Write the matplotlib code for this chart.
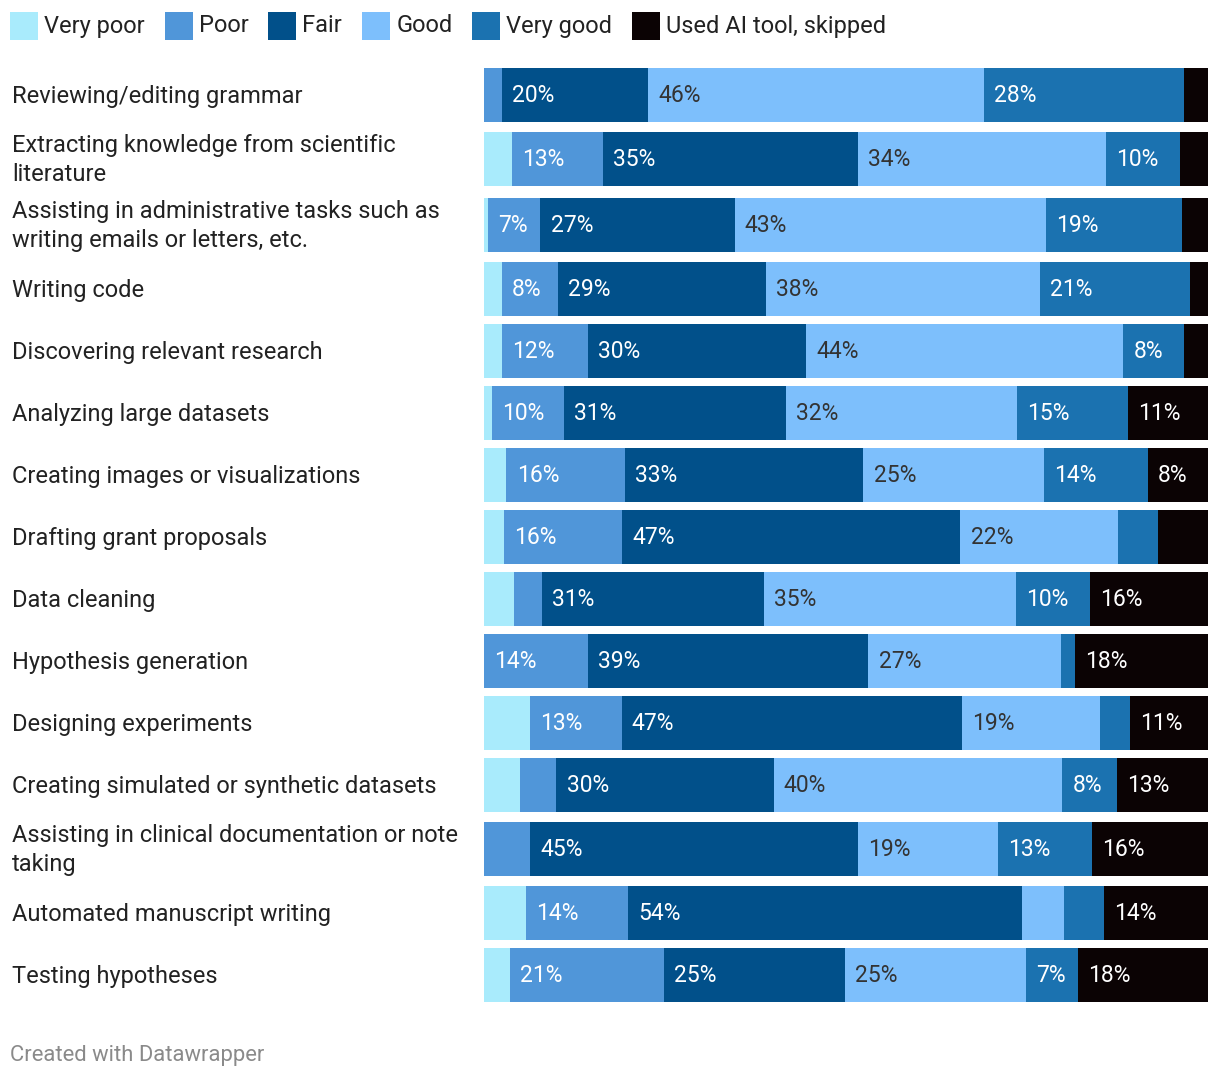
"""Stacked bar chart: how researchers rated AI tools per task."""

import matplotlib

matplotlib.use("Agg")
import matplotlib.pyplot as plt
from matplotlib.patches import Rectangle
from matplotlib.transforms import blended_transform_factory

W, H = 1220, 1078

tasks = [
    "Reviewing/editing grammar",
    "Extracting knowledge from scientific\nliterature",
    "Assisting in administrative tasks such as\nwriting emails or letters, etc.",
    "Writing code",
    "Discovering relevant research",
    "Analyzing large datasets",
    "Creating images or visualizations",
    "Drafting grant proposals",
    "Data cleaning",
    "Hypothesis generation",
    "Designing experiments",
    "Creating simulated or synthetic datasets",
    "Assisting in clinical documentation or note\ntaking",
    "Automated manuscript writing",
    "Testing hypotheses",
]

categories = ["Very poor", "Poor", "Fair", "Good", "Very good", "Used AI tool, skipped"]

very_poor = [0.0, 3.8, 0.6, 2.5, 2.5, 1.1, 3.1, 2.8, 4.1, 0.0, 6.3, 5.0, 0.0, 5.8, 3.6]
poor = [2.5, 12.6, 7.2, 7.7, 11.9, 9.9, 16.4, 16.3, 3.9, 14.4, 12.7, 5.0, 6.4, 14.1, 21.2]
fair = [20.2, 35.2, 26.8, 28.7, 30.1, 30.7, 32.9, 46.7, 30.7, 38.7, 47.0, 30.0, 45.3, 54.4, 25.1]
good = [46.4, 34.3, 43.0, 37.9, 43.8, 31.9, 24.9, 21.8, 34.8, 26.6, 19.1, 39.9, 19.3, 5.8, 24.9]
very_good = [27.6, 10.2, 18.8, 20.7, 8.4, 15.4, 14.4, 5.5, 10.2, 1.9, 4.1, 7.5, 13.0, 5.5, 7.2]
skipped = [3.3, 3.9, 3.6, 2.5, 3.3, 11.0, 8.3, 6.9, 16.3, 18.4, 10.8, 12.6, 16.0, 14.4, 18.0]

series = [very_poor, poor, fair, good, very_good, skipped]
colors = ["#a9ebfc", "#5096d9", "#01508a", "#7dbffc", "#1b72b0", "#0b0304"]
label_colors = ["#333333", "#ffffff", "#ffffff", "#333333", "#ffffff", "#ffffff"]

plt.rcParams["font.family"] = ["Roboto", "DejaVu Sans"]

fig = plt.figure(figsize=(W / 100, H / 100), dpi=100)

# row centres in pixel units: two-line labels push neighbours apart a bit
two_line = [("\n" in t) for t in tasks]
centers = [95.0]
for i in range(1, len(tasks)):
    centers.append(centers[-1] + 62 + 2 * two_line[i - 1] + 2 * two_line[i])

top, bottom = 68, centers[-1] + 27
ax = fig.add_axes([484 / W, (H - bottom) / H, 724 / W, (bottom - top) / H])
ax.set_xlim(0, 100)
ax.set_ylim(bottom, top)
ax.axis("off")

left = [0.0] * len(tasks)
for vals, col, lcol in zip(series, colors, label_colors):
    ax.barh(centers, vals, left=left, height=54, color=col, linewidth=0)
    for y, v, l0 in zip(centers, vals, left):
        if v >= 7:
            ax.text(l0 + 1.4, y, f"{round(v)}%", color=lcol, fontsize=16.5,
                    va="center", ha="left")
    left = [a + b for a, b in zip(left, vals)]

lab_tr = blended_transform_factory(fig.transFigure, ax.transData)
for y, t in zip(centers, tasks):
    ax.text(12 / W, y + 1, t, transform=lab_tr, fontsize=17, color="#222222",
            va="center", ha="left", linespacing=1.38)

# legend row along the top
renderer = fig.canvas.get_renderer()
x = 10
for cat, col in zip(categories, colors):
    fig.patches.append(Rectangle((x / W, (H - 40) / H), 28 / W, 28 / H,
                                 transform=fig.transFigure, color=col, lw=0))
    txt = fig.text((x + 34) / W, (H - 26) / H, cat, fontsize=17, color="#222222",
                   va="center", ha="left")
    bb = txt.get_window_extent(renderer)
    x = bb.x1 + 20

fig.text(10 / W, (H - 1055) / H, "Created with Datawrapper", fontsize=15.8,
         color="#8a8a8a", va="center", ha="left")

fig.savefig("out.png", dpi=100)
